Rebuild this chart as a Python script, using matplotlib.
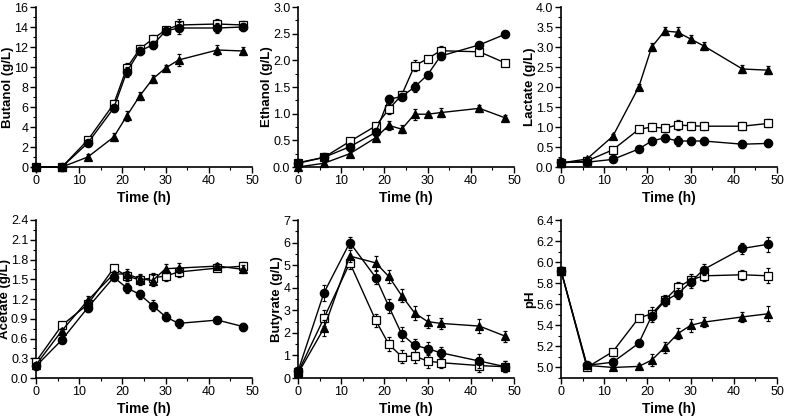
import matplotlib.pyplot as plt
from matplotlib.ticker import AutoMinorLocator, MultipleLocator

plt.rcParams['font.family'] = ['Liberation Sans', 'DejaVu Sans']

time = [0, 6, 12, 18, 21, 24, 27, 30, 33, 42, 48]

# Butanol (g/L)
butanol_circle = [0, 0, 2.4, 5.9, 9.5, 11.6, 12.2, 13.6, 13.9, 13.9, 14.0]
butanol_square = [0, 0, 2.7, 6.3, 9.9, 11.8, 12.8, 13.7, 14.2, 14.3, 14.2]
butanol_triangle = [0, 0, 1.0, 3.0, 5.1, 7.1, 8.8, 9.9, 10.7, 11.7, 11.6]
butanol_err = [0.05, 0.1, 0.3, 0.4, 0.5, 0.4, 0.4, 0.3, 0.6, 0.5, 0.4]

# Ethanol (g/L)
ethanol_circle = [0.08, 0.18, 0.38, 0.65, 1.27, 1.32, 1.50, 1.73, 2.08, 2.29, 2.49]
ethanol_square = [0.07, 0.18, 0.48, 0.77, 1.08, 1.35, 1.90, 2.03, 2.18, 2.16, 1.95]
ethanol_triangle = [0.0, 0.07, 0.25, 0.55, 0.78, 0.71, 0.99, 0.99, 1.02, 1.10, 0.92]
ethanol_err = [0.02, 0.03, 0.05, 0.06, 0.08, 0.07, 0.1, 0.05, 0.08, 0.06, 0.06]

# Lactate (g/L)
lactate_circle = [0.12, 0.12, 0.19, 0.45, 0.65, 0.73, 0.65, 0.65, 0.65, 0.57, 0.59]
lactate_square = [0.10, 0.15, 0.43, 0.94, 1.00, 0.97, 1.05, 1.03, 1.02, 1.02, 1.09]
lactate_triangle = [0.10, 0.20, 0.77, 2.00, 3.00, 3.40, 3.37, 3.20, 3.03, 2.45, 2.42]
lactate_err = [0.02, 0.03, 0.05, 0.08, 0.1, 0.1, 0.12, 0.1, 0.1, 0.1, 0.1]

# Acetate (g/L)
acetate_circle = [0.18, 0.58, 1.07, 1.53, 1.37, 1.27, 1.10, 0.93, 0.83, 0.88, 0.78]
acetate_square = [0.25, 0.80, 1.12, 1.67, 1.55, 1.49, 1.52, 1.55, 1.61, 1.67, 1.70]
acetate_triangle = [0.20, 0.72, 1.18, 1.58, 1.58, 1.51, 1.48, 1.66, 1.67, 1.70, 1.65]
acetate_err = [0.03, 0.04, 0.06, 0.05, 0.08, 0.07, 0.08, 0.07, 0.07, 0.05, 0.06]

# Butyrate (g/L)
butyrate_circle = [0.30, 3.77, 6.00, 4.45, 3.18, 1.95, 1.45, 1.30, 1.12, 0.75, 0.50]
butyrate_square = [0.25, 2.65, 5.10, 2.55, 1.50, 0.95, 0.97, 0.75, 0.68, 0.55, 0.50]
butyrate_triangle = [0.20, 2.20, 5.40, 5.10, 4.50, 3.65, 2.88, 2.50, 2.42, 2.30, 1.85]
butyrate_err = [0.1, 0.35, 0.25, 0.3, 0.3, 0.3, 0.3, 0.3, 0.25, 0.3, 0.25]

# pH
ph_circle = [5.92, 5.02, 5.05, 5.23, 5.49, 5.63, 5.70, 5.81, 5.93, 6.13, 6.17]
ph_square = [5.92, 5.00, 5.15, 5.47, 5.51, 5.64, 5.76, 5.83, 5.87, 5.88, 5.87]
ph_triangle = [5.92, 5.02, 5.00, 5.01, 5.07, 5.19, 5.32, 5.40, 5.43, 5.48, 5.51]
ph_err = [0.03, 0.02, 0.02, 0.02, 0.06, 0.05, 0.05, 0.06, 0.05, 0.05, 0.07]

panels = [
    ("Butanol (g/L)", butanol_circle, butanol_square, butanol_triangle, butanol_err, (0, 16), 2),
    ("Ethanol (g/L)", ethanol_circle, ethanol_square, ethanol_triangle, ethanol_err, (0, 3.0), 0.5),
    ("Lactate (g/L)", lactate_circle, lactate_square, lactate_triangle, lactate_err, (0, 4.0), 0.5),
    ("Acetate (g/L)", acetate_circle, acetate_square, acetate_triangle, acetate_err, (0, 2.4), 0.3),
    ("Butyrate (g/L)", butyrate_circle, butyrate_square, butyrate_triangle, butyrate_err, (0, 7), 1),
    ("pH", ph_circle, ph_square, ph_triangle, ph_err, (4.9, 6.4), 0.2),
]

fig = plt.figure(figsize=(7.87, 4.19), dpi=100)

lefts = [36, 298, 561]
width = 216
rows = [(7, 167), (220, 378)]

for i, (ylabel, circ, sq, tri, err, ylim, step) in enumerate(panels):
    top, bottom = rows[i // 3]
    left = lefts[i % 3]
    ax = fig.add_axes([left / 787, 1 - bottom / 419, width / 787, (bottom - top) / 419])

    style = dict(color='black', lw=1.0, capsize=1.5, elinewidth=0.7, capthick=0.7,
                 markersize=6, markeredgewidth=0.9, clip_on=False)
    ax.errorbar(time, sq, yerr=err, fmt='-s', markerfacecolor='white',
                markeredgecolor='black', zorder=3, **style)
    ax.errorbar(time, tri, yerr=err, fmt='-^', markerfacecolor='black', zorder=4, **style)
    ax.errorbar(time, circ, yerr=err, fmt='-o', markerfacecolor='black', zorder=5, **style)

    ax.set_xlim(0, 50)
    ax.set_ylim(*ylim)
    ax.xaxis.set_major_locator(MultipleLocator(10))
    ax.yaxis.set_major_locator(MultipleLocator(step))
    ax.xaxis.set_minor_locator(AutoMinorLocator(2))
    ax.yaxis.set_minor_locator(AutoMinorLocator(2))
    if step < 1:
        ax.yaxis.set_major_formatter(plt.FormatStrFormatter('%.1f'))

    ax.spines['top'].set_visible(False)
    ax.spines['right'].set_visible(False)
    ax.spines['left'].set_linewidth(1.2)
    ax.spines['bottom'].set_linewidth(1.2)
    ax.tick_params(which='major', direction='out', length=4, width=1.0, labelsize=9, pad=1.5)
    ax.tick_params(which='minor', direction='out', length=2, width=0.8)

    ax.set_xlabel("Time (h)", fontsize=10, fontweight='bold', labelpad=3)
    ax.set_ylabel(ylabel, fontsize=9.5, fontweight='bold', labelpad=0)

fig.savefig("out.png", dpi=100)
